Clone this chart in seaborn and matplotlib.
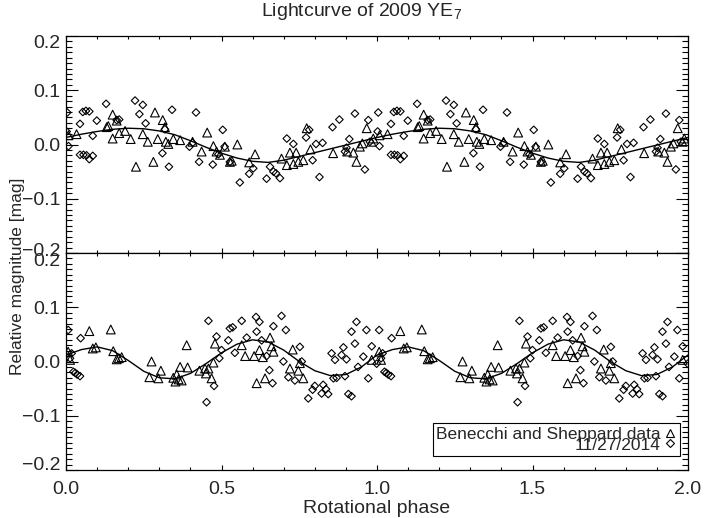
import numpy as np
import pandas as pd
import matplotlib
matplotlib.use("Agg")
import matplotlib.pyplot as plt
import matplotlib.transforms as mtransforms
from matplotlib.lines import Line2D
from matplotlib.ticker import MultipleLocator, FixedLocator, FuncFormatter
import seaborn as sns

# ---- upper panel: single-peaked fold ----
top_tri_phase = [0.008, 0.034, 0.131, 0.136, 0.150, 0.150, 0.163, 0.171, 0.190, 0.208,
                 0.225, 0.247, 0.263, 0.281, 0.286, 0.295, 0.311, 0.318, 0.321, 0.329,
                 0.345, 0.367, 0.407, 0.436, 0.454, 0.474, 0.484, 0.495, 0.511, 0.527,
                 0.533, 0.551, 0.589, 0.608, 0.693, 0.710, 0.720, 0.731, 0.740, 0.747,
                 0.763, 0.774, 0.786, 0.859, 0.904, 0.924, 0.934, 0.945, 0.953, 0.967,
                 0.982, 0.988]
top_tri_mag = [0.017, 0.019, 0.032, 0.034, 0.055, 0.011, 0.044, 0.021, 0.025, 0.010,
               -0.041, 0.019, 0.005, -0.032, 0.059, 0.010, 0.045, 0.032, 0.005, 0.001,
               0.010, 0.008, 0.005, -0.013, 0.022, -0.003, -0.013, -0.019, -0.004, -0.032,
               -0.030, 0.000, -0.033, -0.018, -0.026, -0.038, -0.015, -0.036, -0.015, -0.032,
               -0.029, 0.030, -0.009, -0.016, -0.013, -0.015, -0.032, -0.004, 0.002, 0.030,
               0.005, 0.011]

top_dia_phase = [0.002, 0.004, 0.008, 0.045, 0.054, 0.064, 0.075, 0.045, 0.056, 0.066,
                 0.075, 0.086, 0.086, 0.099, 0.129, 0.163, 0.171, 0.222, 0.247, 0.236,
                 0.256, 0.310, 0.318, 0.331, 0.341, 0.397, 0.407, 0.418, 0.428, 0.472,
                 0.490, 0.504, 0.510, 0.527, 0.559, 0.589, 0.602, 0.645, 0.656, 0.667,
                 0.675, 0.688, 0.710, 0.731, 0.772, 0.782, 0.793, 0.804, 0.815, 0.825,
                 0.857, 0.879, 0.897, 0.902, 0.911, 0.929, 0.961, 0.972, 0.977]
top_dia_mag = [0.024, 0.059, -0.003, 0.038, 0.060, 0.062, 0.061, -0.019, -0.019, -0.020,
               -0.027, -0.021, 0.016, 0.044, 0.075, 0.045, 0.046, 0.081, 0.073, 0.056,
               0.039, -0.016, 0.028, -0.041, 0.064, -0.004, 0.003, 0.059, -0.032, -0.037,
               -0.018, 0.027, -0.004, -0.032, -0.070, -0.054, -0.044, -0.063, -0.041, -0.050,
               -0.053, -0.062, 0.011, 0.001, 0.013, 0.027, -0.029, 0.001, -0.060, 0.003,
               0.032, 0.046, -0.013, -0.006, 0.010, 0.057, -0.046, 0.045, 0.005]

curve_phase = [0.00, 0.05, 0.10, 0.15, 0.20, 0.25, 0.30, 0.35, 0.40, 0.45, 0.50,
               0.55, 0.60, 0.65, 0.70, 0.75, 0.80, 0.85, 0.90, 0.95, 1.00]
top_curve = [0.013, 0.019, 0.024, 0.028, 0.030, 0.029, 0.025, 0.018, 0.007, -0.005, -0.016,
             -0.025, -0.031, -0.033, -0.029, -0.022, -0.015, -0.008, -0.001, 0.006, 0.013]

# ---- lower panel: double-peaked fold ----
bot_tri_phase = [0.007, 0.013, 0.075, 0.086, 0.096, 0.144, 0.152, 0.163, 0.170, 0.179,
                 0.268, 0.275, 0.297, 0.305, 0.345, 0.352, 0.356, 0.362, 0.367, 0.372,
                 0.388, 0.391, 0.429, 0.447, 0.450, 0.458, 0.468, 0.474, 0.479, 0.565,
                 0.576, 0.605, 0.613, 0.622, 0.633, 0.640, 0.656, 0.661, 0.667, 0.720,
                 0.729, 0.747, 0.752, 0.763, 0.983]
bot_tri_mag = [0.018, 0.003, 0.056, 0.024, 0.026, 0.059, 0.019, 0.004, 0.006, 0.008,
               -0.029, 0.000, -0.031, -0.017, -0.030, -0.037, -0.024, -0.033, -0.010, -0.035,
               0.030, -0.011, -0.017, -0.013, -0.022, -0.013, -0.031, -0.002, 0.033, 0.030,
               0.010, 0.010, -0.040, 0.021, 0.008, -0.031, 0.044, 0.028, 0.018, -0.013,
               0.022, -0.017, -0.003, -0.031, 0.003]

bot_dia_phase = [0.007, 0.013, 0.018, 0.024, 0.030, 0.036, 0.045, 0.047, 0.452, 0.458,
                 0.476, 0.484, 0.493, 0.500, 0.522, 0.527, 0.536, 0.543, 0.565, 0.581,
                 0.611, 0.613, 0.622, 0.629, 0.645, 0.654, 0.664, 0.667, 0.693, 0.699,
                 0.707, 0.715, 0.736, 0.752, 0.758, 0.779, 0.793, 0.800, 0.822, 0.827,
                 0.836, 0.843, 0.854, 0.860, 0.865, 0.870, 0.886, 0.892, 0.897, 0.902,
                 0.908, 0.918, 0.918, 0.929, 0.934, 0.939, 0.956, 0.966, 0.972, 0.983,
                 0.999]
bot_dia_mag = [0.058, 0.006, 0.015, -0.019, -0.021, -0.024, -0.027, 0.043, -0.075, 0.075,
               -0.045, 0.046, 0.006, 0.021, 0.039, 0.061, 0.063, 0.016, 0.075, 0.044,
               0.082, 0.055, 0.073, 0.039, 0.010, -0.016, -0.040, 0.065, 0.084, 0.000,
               0.058, -0.029, -0.035, 0.027, 0.000, -0.068, -0.052, -0.045, -0.059, -0.043,
               -0.051, -0.060, 0.015, -0.031, 0.003, -0.030, 0.012, 0.026, -0.027, 0.004,
               -0.060, -0.064, 0.055, 0.033, 0.073, -0.010, 0.009, 0.058, -0.031, 0.028,
               -0.004]

bot_curve = [0.012, 0.022, 0.027, 0.020, 0.002, -0.018, -0.030, -0.032, -0.022, -0.004, 0.016,
             0.032, 0.040, 0.036, 0.021, 0.000, -0.017, -0.026, -0.024, -0.010, 0.012]

y_ticks = [-0.2, -0.1, 0.0, 0.1, 0.2]


def two_cycles(phase, mag):
    # one rotation is observed, the plot shows it twice
    ph = np.asarray(phase, dtype=float)
    m = np.asarray(mag, dtype=float)
    return pd.DataFrame({"phase": np.concatenate([ph, ph + 1.0]),
                         "mag": np.concatenate([m, m])})


def curve_two_cycles(phase, mag):
    ph = np.asarray(phase, dtype=float)
    m = np.asarray(mag, dtype=float)
    return pd.DataFrame({"phase": np.concatenate([ph, ph[1:] + 1.0]),
                         "mag": np.concatenate([m, m[1:]])})


def fmt_tick(v, pos):
    if abs(v) < 1e-9:
        v = 0.0
    return f"{v:.1f}".replace("-", "\u2212")


def style_axis(ax, show_x):
    ax.set_xlim(0, 2)
    ax.set_ylim(-0.2, 0.2)
    ax.xaxis.set_major_locator(MultipleLocator(0.5))
    ax.xaxis.set_minor_locator(MultipleLocator(0.1))
    ax.yaxis.set_major_locator(FixedLocator(y_ticks))
    ax.yaxis.set_minor_locator(MultipleLocator(0.01))
    ax.xaxis.set_major_formatter(FuncFormatter(fmt_tick))
    ax.yaxis.set_major_formatter(FuncFormatter(fmt_tick))
    ax.tick_params(which="both", direction="in", top=True, right=True,
                   color="black", width=0.8, labelsize=14)
    ax.tick_params(axis="y", which="major", length=8.6, pad=4)
    ax.tick_params(axis="y", which="minor", length=4.3)
    ax.tick_params(axis="x", which="major", length=3.6, pad=8)
    ax.tick_params(axis="x", which="minor", length=1.9)
    ax.tick_params(axis="x", labelbottom=show_x)
    for sp in ax.spines.values():
        sp.set_color("black")
        sp.set_linewidth(0.9)
    ax.set_xlabel("")
    ax.set_ylabel("")


def nudge_end_labels(ax, down_top, up_bottom):
    # the outermost y labels sit a little inside the frame
    fig = ax.figure
    for tick, loc in zip(ax.yaxis.get_major_ticks(), y_ticks):
        if np.isclose(loc, 0.2):
            dy = -down_top
        elif np.isclose(loc, -0.2):
            dy = up_bottom
        else:
            continue
        off = mtransforms.ScaledTranslation(0, dy / 72, fig.dpi_scale_trans)
        tick.label1.set_transform(tick.label1.get_transform() + off)


def draw_panel(ax, tri_ph, tri_mag, dia_ph, dia_mag, curve):
    sns.lineplot(data=curve_two_cycles(curve_phase, curve), x="phase", y="mag",
                 color="black", linewidth=1.0, sort=False, estimator=None, ax=ax)
    sns.scatterplot(data=two_cycles(tri_ph, tri_mag), x="phase", y="mag", marker="^",
                    s=40, color="black", facecolor="none", edgecolor="black",
                    linewidth=0.8, legend=False, ax=ax)
    sns.scatterplot(data=two_cycles(dia_ph, dia_mag), x="phase", y="mag", marker="D",
                    s=15, color="black", facecolor="none", edgecolor="black",
                    linewidth=0.8, legend=False, ax=ax)


sns.set_style("ticks")
plt.rcParams["font.family"] = ["Liberation Sans", "DejaVu Sans"]
plt.rcParams["mathtext.fontset"] = "custom"
plt.rcParams["mathtext.rm"] = "Liberation Sans"

fig = plt.figure(figsize=(7.04, 5.18), dpi=100)
ax_top = fig.add_axes([66 / 704, 1 - 253 / 518, 622 / 704, 217 / 518])
ax_bot = fig.add_axes([66 / 704, 1 - 470 / 518, 622 / 704, 217 / 518])

draw_panel(ax_top, top_tri_phase, top_tri_mag, top_dia_phase, top_dia_mag, top_curve)
draw_panel(ax_bot, bot_tri_phase, bot_tri_mag, bot_dia_phase, bot_dia_mag, bot_curve)

style_axis(ax_top, show_x=False)
style_axis(ax_bot, show_x=True)
nudge_end_labels(ax_top, 4.3, 2.2)
nudge_end_labels(ax_bot, 5.0, 5.0)

handles = [
    Line2D([], [], ls="none", marker="^", ms=6.3, mfc="none", mec="black", mew=0.8),
    Line2D([], [], ls="none", marker="D", ms=3.9, mfc="none", mec="black", mew=0.8),
]
leg = ax_bot.legend(handles, ["Benecchi and Sheppard data", "11/27/2014"],
                    loc="lower right", bbox_to_anchor=(0.987, 0.0645), borderaxespad=0,
                    markerfirst=False, frameon=True, fancybox=False, edgecolor="black",
                    framealpha=1, fontsize=12.5, borderpad=0.2, labelspacing=-0.27,
                    handlelength=0.7, handleheight=0.7, handletextpad=0.2)
leg.get_frame().set_linewidth(0.8)

fig.text(362 / 704, 1 - 12 / 518, "Lightcurve of 2009 YE$_\\mathregular{7}$",
         ha="center", va="center", fontsize=14)
fig.text(18 / 704, 1 - 276 / 518, "Relative magnitude [mag]", rotation=90,
         ha="center", va="center", fontsize=12.5)
fig.text(377 / 704, 1 - 513 / 518, "Rotational phase", ha="center", va="baseline",
         fontsize=14)

fig.savefig("out.png", dpi=100)
